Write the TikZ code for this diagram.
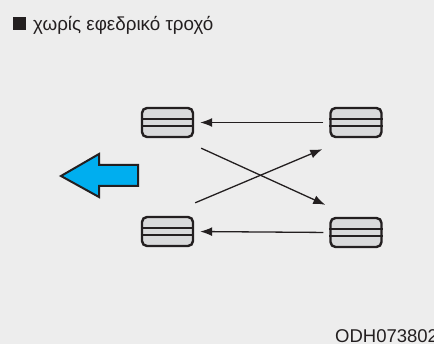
\documentclass[tikz,border=0pt]{standalone}
\usepackage{fontspec}
\setmainfont{Liberation Sans}
\usetikzlibrary{arrows.meta}
\definecolor{bggray}{HTML}{EDEDED}
\definecolor{tyregray}{HTML}{D9DADB}
\definecolor{inkdark}{HTML}{231F20}
\definecolor{movblue}{HTML}{00AEEF}
\tikzset{
  tyre/.style={draw=inkdark,line width=2.4pt,fill=tyregray,rounded corners=5pt,
    minimum width=51pt,minimum height=29pt,inner sep=0pt},
  swap/.style={draw=inkdark,line width=1.3pt,-{Latex[length=12pt,width=9pt]}}
}
\begin{document}
\begin{tikzpicture}[x=1pt,y=-1pt]
  \useasboundingbox (0,0) rectangle (434,344);
  \fill[bggray] (0,0) rectangle (434,344);
  % title
  \fill[inkdark] (13,17) rectangle (26,30);
  \node[anchor=base west,inner sep=0pt,font=\fontsize{18.8}{22}\selectfont,text=inkdark] (title) at (33,31) {χωρίς εφεδρικό τροχό};
  % tyres
  \node[tyre] (FL) at (167.5,122.5) {};
  \node[tyre] (FR) at (356,122.5) {};
  \node[tyre] (RL) at (167.5,231.5) {};
  \node[tyre] (RR) at (356,232.5) {};
  \foreach \t in {FL,FR,RL,RR}{
    \draw[inkdark,line width=1.3pt] ([yshift=3.5pt]\t.west) -- ([yshift=3.5pt]\t.east);
    \draw[inkdark,line width=1.3pt] ([yshift=-3.5pt]\t.west) -- ([yshift=-3.5pt]\t.east);
  }
  % rotation
  \draw[swap,shorten <=6pt,shorten >=6pt] (FR.west) -- (FL.east);
  \draw[swap,shorten <=6pt,shorten >=6pt] (RR.west) -- (RL.east);
  \draw[swap] ([shift={(7,10)}]FL.south east) -- ([shift={(-4,-12)}]RR.north west);
  \draw[swap] ([shift={(1,-13)}]RL.north east) -- ([shift={(-7,11)}]FR.south west);
  % direction
  \draw[draw=inkdark,line width=2pt,fill=movblue,line join=miter]
    (61,176) -- (99,154) -- (99,165) -- (138,165) -- (138,186) -- (99,186) -- (99,197) -- cycle;
  \node[anchor=base west,inner sep=0pt,font=\fontsize{18.5}{21}\selectfont,text=inkdark] (code) at (335,343) {ODH073802};
\end{tikzpicture}
\end{document}
